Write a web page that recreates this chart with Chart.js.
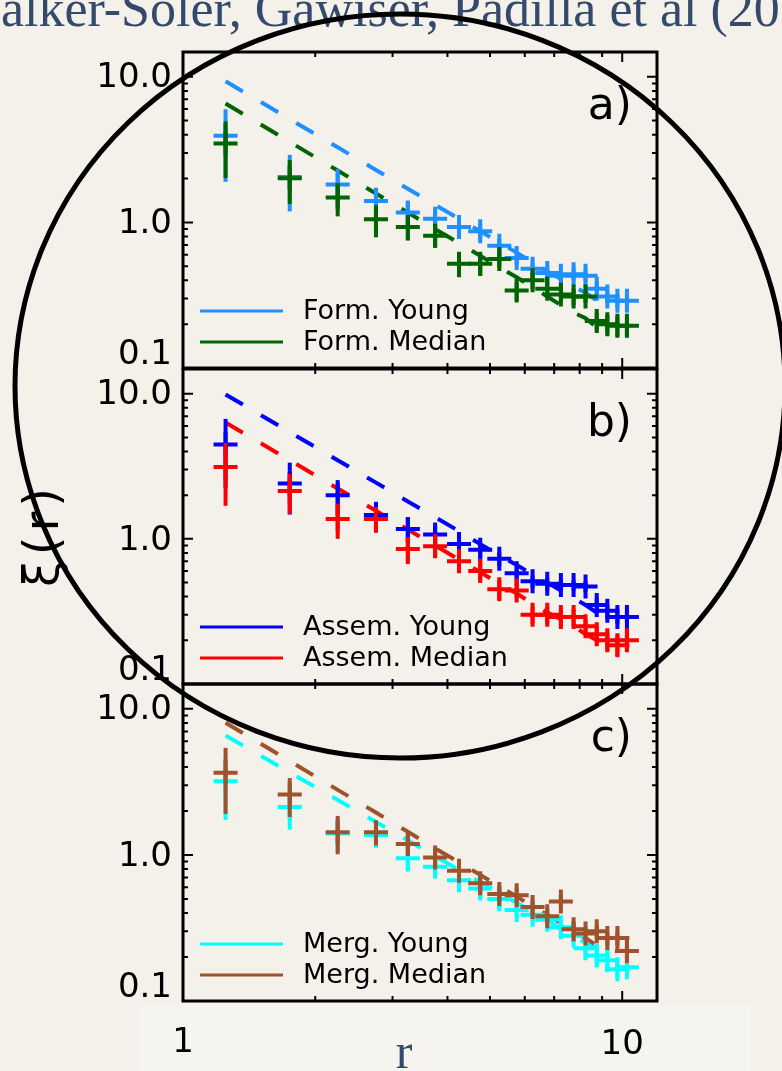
<!DOCTYPE html>
<html>
<head>
<meta charset="utf-8">
<script src="https://cdn.jsdelivr.net/npm/chart.js@4.4.1/dist/chart.umd.min.js"></script>
<style>
  html, body { margin: 0; padding: 0; }
  body { width: 782px; height: 1071px; background: #f4f1ea; position: relative; overflow: hidden; }
  canvas.panel { position: absolute; left: 0; top: 0; }
  #strip { position: absolute; left: 140px; top: 1004px; width: 611px; height: 67px; background: #f6f4ef; }
  #title { position: absolute; left: -44px; top: -17px; font-family: "Liberation Serif", serif; font-size: 52px; line-height: 1; color: #34496b; white-space: nowrap; }
  #xlab { position: absolute; left: 404px; top: 1026px; transform: translateX(-50%); font-family: "Liberation Serif", serif; font-size: 50px; line-height: 1; color: #34496b; }
  #ylab { position: absolute; left: 41px; top: 535px; transform: translate(-50%, -50%) rotate(-90deg); font-family: "DejaVu Sans", sans-serif; font-size: 48px; letter-spacing: 5px; line-height: 1; color: #000; white-space: nowrap; }
  svg { position: absolute; left: 0; top: 0; }
</style>
</head>
<body>
<div id="strip"></div>
<div id="title">Walker-Soler, Gawiser, Padilla et al (20</div>
<canvas class="panel" id="panelA" width="782" height="1071"></canvas>
<canvas class="panel" id="panelB" width="782" height="1071"></canvas>
<canvas class="panel" id="panelC" width="782" height="1071"></canvas>
<div id="ylab">ξ(r)</div>
<div id="xlab">r</div>
<svg width="782" height="1071"><ellipse cx="400" cy="386" rx="385" ry="372" fill="none" stroke="#000" stroke-width="5"/></svg>
<script>
// bin centres of the measured points and of the dashed model lines
const rBins = [1.25, 1.75, 2.25, 2.75, 3.25, 3.75, 4.25, 4.75, 5.25, 5.75, 6.25, 6.75, 7.25, 7.75, 8.25, 8.75, 9.25, 9.75, 10.25];
const rModel = [1.25, 1.75, 2.25, 2.75, 3.25, 3.75, 4.25, 4.75, 5.25, 5.75, 6.25, 6.75, 7.25, 7.75, 8.25, 8.75, 9.25];

// a) formation time
const formYoung = [3.94, 2.05, 1.82, 1.40, 1.17, 1.06, 0.93, 0.87, 0.69, 0.57, 0.48, 0.45, 0.43, 0.44, 0.43, 0.35, 0.31, 0.29, 0.29];
const formYoungErr = [2.04, 0.86, 0.51, 0.33, 0.21, 0.15, 0.12, 0.10, 0.08, 0.06, 0.05, 0.05, 0.04, 0.04, 0.04, 0.04, 0.03, 0.03, 0.03];
const formYoungModel = [9.32, 5.12, 3.28, 2.29, 1.70, 1.32, 1.06, 0.87, 0.73, 0.62, 0.53, 0.46, 0.41, 0.36, 0.33, 0.29, 0.27];
const formMedian = [3.48, 2.01, 1.48, 1.05, 0.93, 0.81, 0.52, 0.52, 0.56, 0.34, 0.40, 0.35, 0.32, 0.31, 0.31, 0.21, 0.20, 0.195, 0.195];
const formMedianErr = [1.46, 0.67, 0.38, 0.26, 0.18, 0.14, 0.10, 0.09, 0.07, 0.05, 0.05, 0.04, 0.04, 0.04, 0.03, 0.03, 0.03, 0.03, 0.03];
const formMedianModel = [6.56, 3.57, 2.27, 1.58, 1.17, 0.90, 0.72, 0.59, 0.49, 0.42, 0.36, 0.31, 0.27, 0.24, 0.22, 0.19, 0.18];

// b) assembly time
const assemYoung = [4.47, 2.41, 2.00, 1.46, 1.17, 1.07, 0.92, 0.84, 0.73, 0.58, 0.51, 0.49, 0.48, 0.48, 0.47, 0.35, 0.32, 0.29, 0.29];
const assemYoungErr = [2.24, 0.94, 0.54, 0.34, 0.23, 0.16, 0.12, 0.10, 0.08, 0.06, 0.05, 0.05, 0.04, 0.04, 0.04, 0.04, 0.03, 0.03, 0.03];
const assemYoungModel = [9.88, 5.44, 3.48, 2.44, 1.81, 1.41, 1.13, 0.92, 0.77, 0.66, 0.57, 0.50, 0.44, 0.39, 0.35, 0.31, 0.28];
const assemMedian = [3.13, 2.14, 1.37, 1.37, 0.85, 0.89, 0.70, 0.60, 0.45, 0.44, 0.30, 0.30, 0.29, 0.29, 0.25, 0.22, 0.20, 0.185, 0.20];
const assemMedianErr = [1.44, 0.66, 0.37, 0.27, 0.18, 0.14, 0.10, 0.09, 0.07, 0.05, 0.04, 0.04, 0.04, 0.04, 0.03, 0.03, 0.03, 0.03, 0.03];
const assemMedianModel = [6.33, 3.48, 2.22, 1.56, 1.16, 0.90, 0.72, 0.59, 0.49, 0.42, 0.36, 0.31, 0.28, 0.25, 0.22, 0.20, 0.18];

// c) last major merger
const mergYoung = [3.20, 2.13, 1.40, 1.37, 0.95, 0.83, 0.67, 0.59, 0.50, 0.42, 0.39, 0.36, 0.32, 0.28, 0.23, 0.205, 0.19, 0.165, 0.17];
const mergYoungErr = [1.46, 0.64, 0.36, 0.25, 0.18, 0.13, 0.10, 0.08, 0.07, 0.05, 0.04, 0.04, 0.04, 0.03, 0.03, 0.03, 0.03, 0.02, 0.02];
const mergYoungModel = [6.57, 3.67, 2.38, 1.68, 1.26, 0.98, 0.79, 0.65, 0.55, 0.47, 0.41, 0.36, 0.31, 0.28, 0.25, 0.23, 0.21];
const mergMedian = [3.66, 2.59, 1.43, 1.43, 1.19, 0.96, 0.78, 0.64, 0.54, 0.53, 0.44, 0.38, 0.48, 0.31, 0.29, 0.30, 0.27, 0.27, 0.22];
const mergMedianErr = [1.75, 0.77, 0.42, 0.27, 0.20, 0.14, 0.10, 0.09, 0.07, 0.06, 0.05, 0.04, 0.05, 0.04, 0.03, 0.03, 0.03, 0.03, 0.03];
const mergMedianModel = [8.04, 4.39, 2.79, 1.95, 1.44, 1.11, 0.89, 0.73, 0.61, 0.52, 0.44, 0.39, 0.34, 0.30, 0.27, 0.24, 0.22];

const FONT = '"DejaVu Sans", sans-serif';

function pts(xs, ys) {
  return ys.map((y, i) => ({ x: xs[i], y: y }));
}

// vertical error bars, drawn right after their own dataset
const errorBars = {
  id: 'errorBars',
  afterDatasetDraw(chart, args) {
    const ds = chart.data.datasets[args.index];
    if (!ds.err) return;
    const { ctx, chartArea: a, scales } = chart;
    ctx.save();
    ctx.beginPath();
    ctx.rect(a.left, a.top, a.right - a.left, a.bottom - a.top);
    ctx.clip();
    ctx.strokeStyle = ds.pointBorderColor;
    ctx.lineWidth = 4;
    ds.data.forEach((p, i) => {
      const x = scales.x.getPixelForValue(p.x);
      const hi = scales.y.getPixelForValue(p.y + ds.err[i]);
      const lo = scales.y.getPixelForValue(Math.max(p.y - ds.err[i], 0.1));
      ctx.beginPath();
      ctx.moveTo(x, hi);
      ctx.lineTo(x, lo);
      ctx.stroke();
    });
    ctx.restore();
  }
};

// frame, inward ticks, tick labels, legend and panel tag
const frame = {
  id: 'frame',
  afterDatasetsDraw(chart, args, opts) {
    const { ctx, chartArea: a, scales } = chart;
    const xs = scales.x, ys = scales.y;
    ctx.save();
    ctx.strokeStyle = '#000';
    ctx.lineWidth = 2;
    for (const d of [0.1, 1]) {
      for (let k = 1; k <= 9; k++) {
        const y = ys.getPixelForValue(d * k);
        const len = k === 1 ? 10 : 5;
        ctx.beginPath();
        ctx.moveTo(a.left, y); ctx.lineTo(a.left + len, y);
        ctx.moveTo(a.right, y); ctx.lineTo(a.right - len, y);
        ctx.stroke();
      }
    }
    const y10 = ys.getPixelForValue(10);
    ctx.beginPath();
    ctx.moveTo(a.left, y10); ctx.lineTo(a.left + 10, y10);
    ctx.moveTo(a.right, y10); ctx.lineTo(a.right - 10, y10);
    ctx.stroke();
    for (let k = 2; k <= 10; k++) {
      const x = xs.getPixelForValue(k);
      const len = k === 10 ? 10 : 5;
      ctx.beginPath();
      ctx.moveTo(x, a.top); ctx.lineTo(x, a.top + len);
      ctx.moveTo(x, a.bottom); ctx.lineTo(x, a.bottom - len);
      ctx.stroke();
    }
    ctx.lineWidth = 3;
    ctx.strokeRect(a.left, a.top, a.right - a.left, a.bottom - a.top);

    ctx.fillStyle = '#000';
    ctx.font = '34px ' + FONT;
    ctx.textAlign = 'right';
    ctx.textBaseline = 'middle';
    ctx.fillText('10.0', a.left - 11, ys.getPixelForValue(10) + 1);
    ctx.fillText('1.0', a.left - 11, ys.getPixelForValue(1) + 2);
    ctx.fillText('0.1', a.left - 11, ys.getPixelForValue(0.1) - 13);
    if (opts.xLabels) {
      ctx.textAlign = 'center';
      ctx.fillText('1', xs.getPixelForValue(1), a.bottom + 42);
      ctx.fillText('10', xs.getPixelForValue(10), a.bottom + 44);
    }

    ctx.font = '44px ' + FONT;
    ctx.textAlign = 'right';
    ctx.fillText(opts.tag, 632, a.top + 56);

    // legend
    ctx.font = '27px ' + FONT;
    ctx.textAlign = 'left';
    const entries = chart.data.datasets.filter(d => d.label);
    entries.forEach((d, i) => {
      const y = a.bottom - 57 + i * 31;
      ctx.strokeStyle = d.pointBorderColor;
      ctx.lineWidth = 3;
      ctx.beginPath();
      ctx.moveTo(200, y); ctx.lineTo(283, y);
      ctx.stroke();
      ctx.fillText(d.label, 303, y + 1);
    });
    ctx.restore();
  }
};

function makePanel(id, top, bottom, tag, xLabels, young, median) {
  const line = (s, order) => ({
    type: 'line', data: pts(rModel, s.model), borderColor: s.color, borderWidth: 4,
    borderDash: [20, 21], pointRadius: 0, fill: false, tension: 0, order: order
  });
  const cross = (s, order) => ({
    type: 'scatter', label: s.label, data: pts(rBins, s.xi), err: s.err,
    pointStyle: 'cross', pointRadius: 12, pointBorderWidth: 4,
    pointBorderColor: s.color, pointBackgroundColor: s.color, borderColor: s.color, order: order
  });
  new Chart(document.getElementById(id), {
    data: { datasets: [line(young, 4), line(median, 3), cross(young, 2), cross(median, 1)] },
    options: {
      responsive: false,
      animation: false,
      events: [],
      layout: { padding: { left: 183, right: 125, top: top, bottom: 1071 - bottom } },
      scales: {
        x: { type: 'logarithmic', min: 1, max: 12, display: false },
        y: { type: 'logarithmic', min: 0.1, max: 14.8, display: false }
      },
      plugins: { legend: { display: false }, tooltip: { enabled: false }, frame: { tag: tag, xLabels: xLabels } }
    },
    plugins: [errorBars, frame]
  });
}

makePanel('panelA', 52, 368, 'a)', false,
  { label: 'Form. Young', color: '#1e90ff', xi: formYoung, err: formYoungErr, model: formYoungModel },
  { label: 'Form. Median', color: '#006400', xi: formMedian, err: formMedianErr, model: formMedianModel });
makePanel('panelB', 369, 684, 'b)', false,
  { label: 'Assem. Young', color: '#0000ff', xi: assemYoung, err: assemYoungErr, model: assemYoungModel },
  { label: 'Assem. Median', color: '#ff0000', xi: assemMedian, err: assemMedianErr, model: assemMedianModel });
makePanel('panelC', 684, 1001, 'c)', true,
  { label: 'Merg. Young', color: '#00ffff', xi: mergYoung, err: mergYoungErr, model: mergYoungModel },
  { label: 'Merg. Median', color: '#a0522d', xi: mergMedian, err: mergMedianErr, model: mergMedianModel });
</script>
</body>
</html>
